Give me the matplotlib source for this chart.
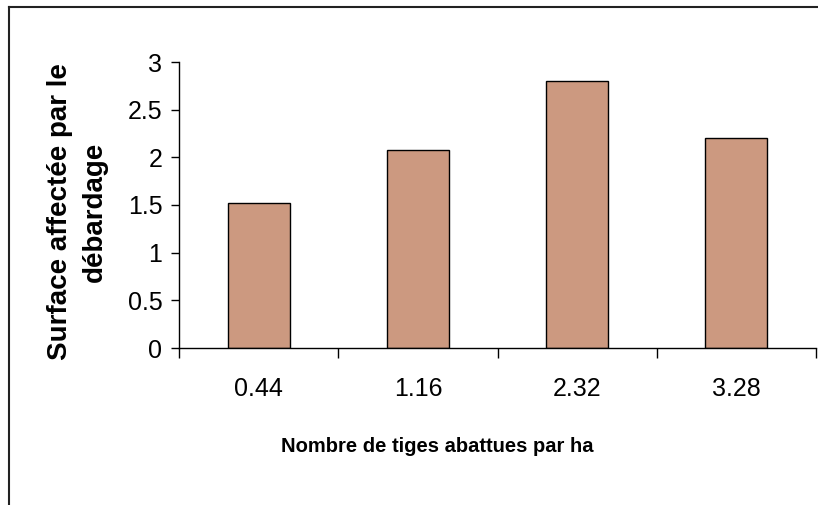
import matplotlib
matplotlib.use('Agg')
from matplotlib import pyplot as plt
from matplotlib.lines import Line2D

# data
categories = ['0.44', '1.16', '2.32', '3.28']
values = [1.52, 2.08, 2.8, 2.2]
y_ticks = [0, 0.5, 1, 1.5, 2, 2.5, 3]
y_ticklabels = ['0', '0.5', '1', '1.5', '2', '2.5', '3']
x_title = 'Nombre de tiges abattues par ha'
y_title = ['Surface affectée par le', 'débardage']

plt.rcParams['font.family'] = ['Liberation Sans', 'DejaVu Sans']

W, H = 818, 505
fig = plt.figure(figsize=(W / 100, H / 100), dpi=100)
ax = fig.add_axes([179 / W, 1 - 348 / H, (816 - 179) / W, (348 - 62) / H])

x = range(len(categories))
ax.bar(x, values, width=0.39, color='#CC9980', edgecolor='black', linewidth=1.0, zorder=2)

ax.set_xlim(-0.5, len(categories) - 0.5)
ax.set_ylim(0, 3)
ax.set_yticks(y_ticks)
ax.set_yticklabels(y_ticklabels, fontsize=18)
# category boundaries carry the ticks, the labels sit between them
ax.set_xticks([i - 0.5 for i in range(len(categories) + 1)])
ax.set_xticklabels([])
ax.set_xticks(list(x), minor=True)
ax.set_xticklabels(categories, minor=True, fontsize=18)
ax.tick_params(axis='x', which='major', direction='out', length=7, width=1, color='black')
ax.tick_params(axis='x', which='minor', length=0, pad=21)
ax.tick_params(axis='y', direction='out', length=6, width=1, pad=6)

for s in ['top', 'right']:
    ax.spines[s].set_visible(False)
ax.spines['left'].set_linewidth(1)
ax.spines['bottom'].set_linewidth(1)

fig.text(437 / W, 1 - 446 / H, x_title, fontsize=14.5, fontweight='bold',
         ha='center', va='center')
fig.text(60 / W, 1 - 212 / H, y_title[0], fontsize=20, fontweight='bold',
         rotation=90, ha='center', va='center')
fig.text(95 / W, 1 - 212 / H, y_title[1], fontsize=20, fontweight='bold',
         rotation=90, ha='center', va='center')

# outer chart-area border (left and top edges visible)
fig.add_artist(Line2D([9 / W, 9 / W], [0, 1 - 7 / H], transform=fig.transFigure,
                      color='#222222', linewidth=1.5))
fig.add_artist(Line2D([9 / W, 1], [1 - 7 / H, 1 - 7 / H], transform=fig.transFigure,
                      color='#222222', linewidth=1.5))

fig.savefig('out.png', dpi=100)
